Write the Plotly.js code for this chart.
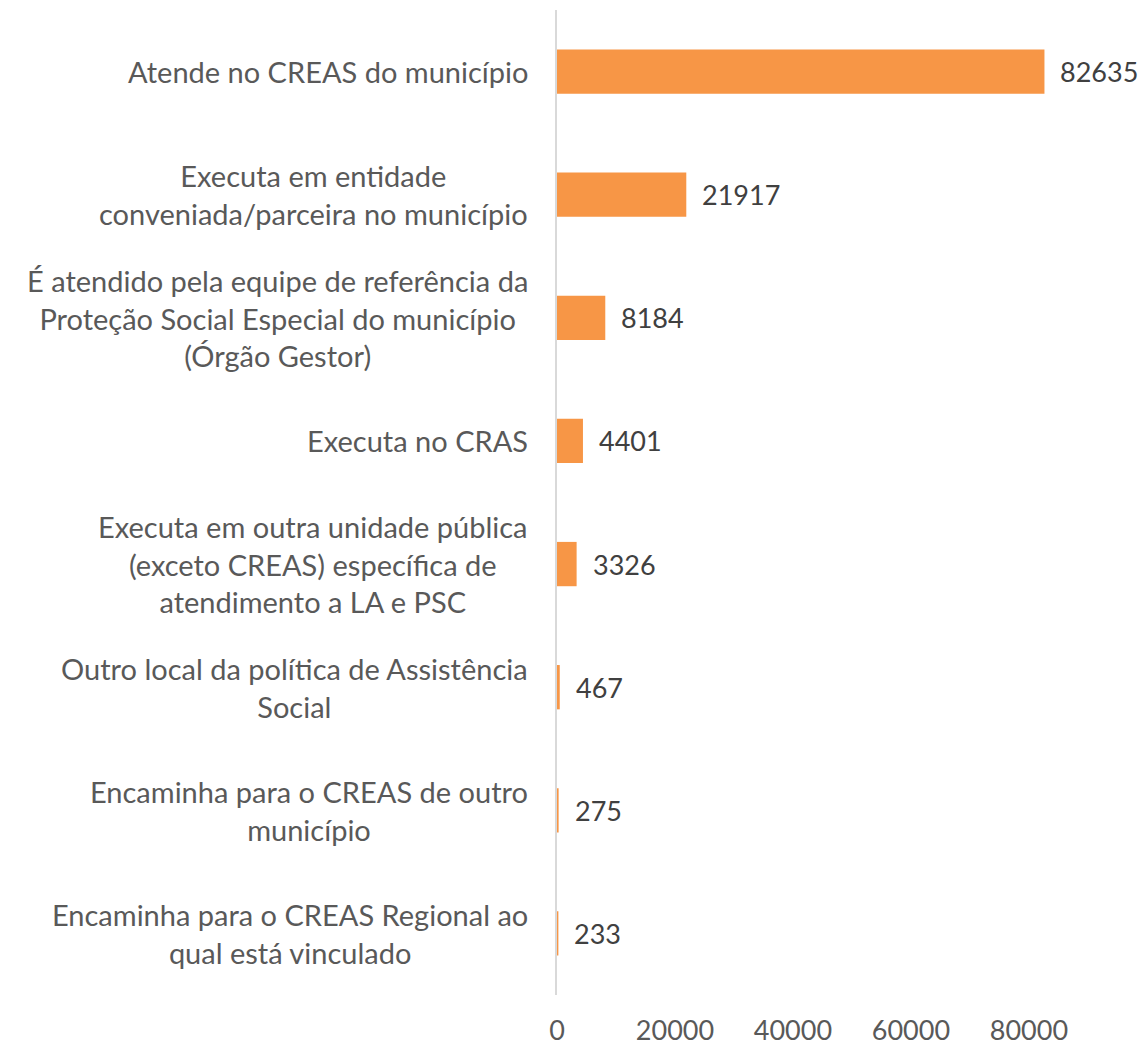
<!DOCTYPE html>
<html>
<head>
<meta charset="utf-8">
<script src="https://cdn.plot.ly/plotly-3.0.1.min.js"></script>
<style>html,body{margin:0;padding:0;background:#fff;}#chart{width:1145px;height:1047px;}</style>
</head>
<body>
<div id="chart"></div>
<script>
const categories = [
  "Atende no CREAS do município",
  "Executa em entidade<br>conveniada/parceira no município",
  "É atendido pela equipe de referência da<br>Proteção Social Especial do município<br>(Órgão Gestor)",
  "Executa no CRAS",
  "Executa em outra unidade pública<br>(exceto CREAS) específica de<br>atendimento a LA e PSC",
  "Outro local da política de Assistência<br>Social",
  "Encaminha para o CREAS de outro<br>município",
  "Encaminha para o CREAS Regional ao<br>qual está vinculado"
];
const values = [82635, 21917, 8184, 4401, 3326, 467, 275, 233];
const tickValues = [0, 20000, 40000, 60000, 80000];
const tickLabels = ["0", "20000", "40000", "60000", "80000"];

const FONT = "Lato, 'Open Sans', sans-serif";

const trace = {
  type: "bar",
  orientation: "h",
  x: values,
  y: categories,
  marker: {color: "#F79646", line: {width: 0}},
  hoverinfo: "skip"
};

const valueLabels = values.map((v, i) => ({
  x: v, y: categories[i], xref: "x", yref: "y",
  text: String(v), showarrow: false, xanchor: "left", yanchor: "middle",
  xshift: 14, font: {family: FONT, size: 27, color: "#404040"}
}));

const categoryLabels = categories.map((c) => ({
  x: 0, y: c, xref: "paper", yref: "y",
  text: c, showarrow: false, xanchor: "right", yanchor: "middle",
  align: "center", xshift: -27,
  font: {family: FONT, size: 29, color: "#595959"}
}));

const layout = {
  width: 1145, height: 1047,
  margin: {l: 557, r: 4, t: 10, b: 52},
  paper_bgcolor: "#fff", plot_bgcolor: "#fff",
  showlegend: false,
  bargap: 0.64,
  font: {family: FONT, color: "#595959"},
  xaxis: {
    range: [0, 99000],
    tickvals: tickValues, ticktext: tickLabels,
    showgrid: false, zeroline: false, showline: false,
    ticks: "", ticklabelstandoff: 17,
    tickfont: {family: FONT, size: 27, color: "#595959"},
    fixedrange: true
  },
  yaxis: {
    autorange: "reversed",
    showgrid: false, zeroline: false,
    showline: true, linecolor: "#D9D9D9", linewidth: 2,
    ticks: "", showticklabels: false,
    fixedrange: true
  },
  annotations: categoryLabels.concat(valueLabels)
};

Plotly.newPlot("chart", [trace], layout, {displayModeBar: false, staticPlot: true});
</script>
</body>
</html>
